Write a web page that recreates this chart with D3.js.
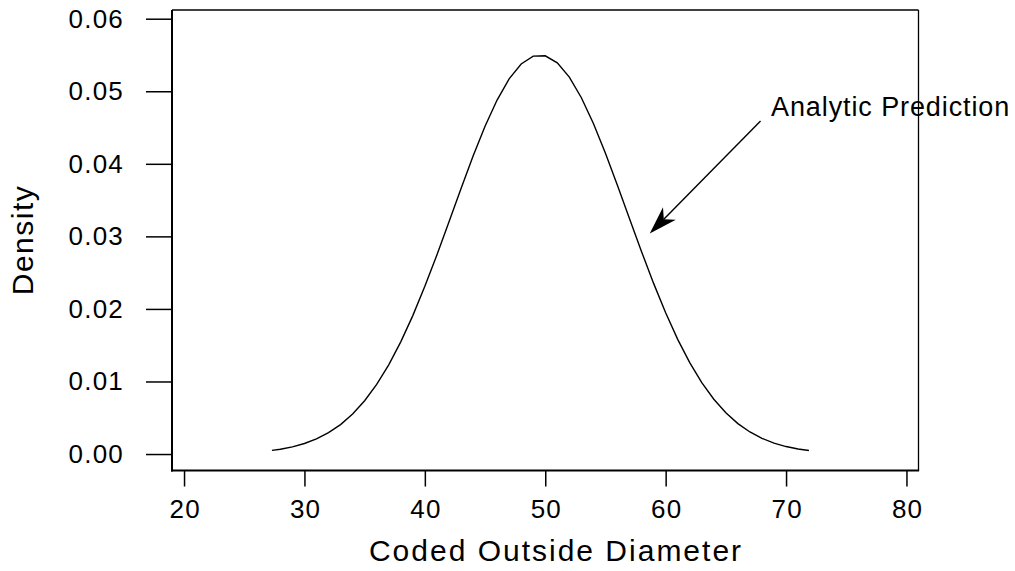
<!DOCTYPE html>
<html>
<head>
<meta charset="utf-8">
<script src="https://d3js.org/d3.v7.min.js"></script>
<style>
  body { margin: 0; background: #fff; }
  text { font-family: "Liberation Sans", Arial, sans-serif; fill: #000; }
</style>
</head>
<body>
<script>
// ---- data ----
var diameter = [27.3, 28, 29, 30, 31, 32, 33, 34, 35, 36, 37, 38, 39, 40, 41, 42, 43, 44, 45, 46, 47, 48, 49,
                50, 51, 52, 53, 54, 55, 56, 57, 58, 59, 60, 61, 62, 63, 64, 65, 66, 67, 68, 69, 70, 71, 71.9];
var density = [0.0005, 0.00066, 0.00099, 0.00145, 0.00208, 0.00294, 0.00406, 0.00552, 0.00734, 0.0096,
               0.0123, 0.01546, 0.01908, 0.02311, 0.02744, 0.03198, 0.03657, 0.04103, 0.04517, 0.04879,
               0.0517, 0.05376, 0.05484, 0.05489, 0.05391, 0.05195, 0.04911, 0.04556, 0.04146, 0.03702,
               0.03244, 0.02789, 0.02352, 0.01947, 0.0158, 0.01259, 0.00984, 0.00755, 0.00568, 0.00419,
               0.00304, 0.00216, 0.0015, 0.00103, 0.00069, 0.00048];
var xTicks = [20, 30, 40, 50, 60, 70, 80];
var yTicks = [0, 0.01, 0.02, 0.03, 0.04, 0.05, 0.06];

var W = 1015, H = 571;
var plotL = 172, plotR = 918.5, plotT = 10, plotB = 470.5;
var tickFont = 26, tickLs = 1.2;

var svg = d3.select("body").append("svg")
    .attr("width", W)
    .attr("height", H);

var x = d3.scaleLinear().domain([19, 81]).range([plotL, plotR]);
var y = d3.scaleLinear().domain([-0.00227, 0.0612]).range([plotB, plotT]);

// frame: top/right thin, left/bottom heavier
svg.append("line").attr("x1", plotL).attr("x2", plotR).attr("y1", plotT).attr("y2", plotT)
    .attr("stroke", "#000").attr("stroke-width", 1.3);
svg.append("line").attr("x1", plotR).attr("x2", plotR).attr("y1", plotT).attr("y2", plotB)
    .attr("stroke", "#000").attr("stroke-width", 1.3);

// axes
var xAxis = svg.append("g")
    .attr("transform", "translate(0," + plotB + ")")
    .call(d3.axisBottom(x).tickValues(xTicks).tickSize(16).tickPadding(13.5).tickFormat(d3.format("d")));
var yAxis = svg.append("g")
    .attr("transform", "translate(" + plotL + ",0)")
    .call(d3.axisLeft(y).tickValues(yTicks).tickSize(26).tickPadding(22).tickFormat(d3.format(".2f")));

[xAxis, yAxis].forEach(function (g) {
    g.select(".domain").remove();
    g.selectAll(".tick line").attr("stroke", "#000").attr("stroke-width", 1.5);
    g.selectAll(".tick text")
        .attr("fill", "#000")
        .style("font-size", tickFont + "px")
        .style("letter-spacing", tickLs + "px")
        .style("font-family", "'Liberation Sans', Arial, sans-serif");
});
xAxis.selectAll(".tick text").attr("dx", (tickLs / 2) + "px");

svg.append("line").attr("x1", plotL).attr("x2", plotL).attr("y1", plotT).attr("y2", plotB + 1)
    .attr("stroke", "#000").attr("stroke-width", 2);
svg.append("line").attr("x1", plotL - 1).attr("x2", plotR + 0.6).attr("y1", plotB).attr("y2", plotB)
    .attr("stroke", "#000").attr("stroke-width", 2);

// density curve
var pts = diameter.map(function (d, i) { return [d, density[i]]; });
svg.append("path")
    .datum(pts)
    .attr("fill", "none")
    .attr("stroke", "#000")
    .attr("stroke-width", 1.4)
    .attr("d", d3.line().x(function (d) { return x(d[0]); }).y(function (d) { return y(d[1]); }));

// axis titles
svg.append("text")
    .attr("x", 556)
    .attr("y", 561)
    .attr("text-anchor", "middle")
    .style("font-size", "30px")
    .style("letter-spacing", "2px")
    .text("Coded Outside Diameter");

svg.append("text")
    .attr("transform", "translate(33,240) rotate(-90)")
    .attr("text-anchor", "middle")
    .style("font-size", "30px")
    .style("letter-spacing", "1.5px")
    .text("Density");

// annotation with arrow
var tail = [x(67.88), y(0.0459)];
var tip = [x(58.68), y(0.0304)];
var dx = tip[0] - tail[0], dy = tip[1] - tail[1];
var len = Math.sqrt(dx * dx + dy * dy);
var ux = dx / len, uy = dy / len, nx = -uy, ny = ux;
var headL = 28, headW = 9, notch = 20;
svg.append("line")
    .attr("x1", tail[0]).attr("y1", tail[1])
    .attr("x2", tip[0] - ux * notch).attr("y2", tip[1] - uy * notch)
    .attr("stroke", "#000").attr("stroke-width", 1.4);
svg.append("path")
    .attr("fill", "#000")
    .attr("d", "M" + tip[0] + "," + tip[1] +
        "L" + (tip[0] - ux * headL + nx * headW) + "," + (tip[1] - uy * headL + ny * headW) +
        "L" + (tip[0] - ux * notch) + "," + (tip[1] - uy * notch) +
        "L" + (tip[0] - ux * headL - nx * headW) + "," + (tip[1] - uy * headL - ny * headW) + "Z");

svg.append("text")
    .attr("x", 771)
    .attr("y", 116)
    .style("font-size", "27px")
    .style("letter-spacing", "0.9px")
    .text("Analytic Prediction");
</script>
</body>
</html>
